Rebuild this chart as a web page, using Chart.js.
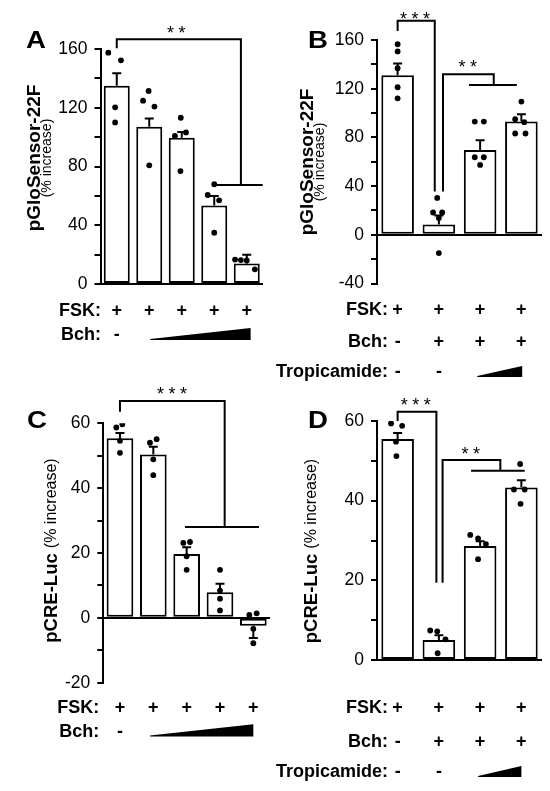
<!DOCTYPE html>
<html>
<head>
<meta charset="utf-8">
<script src="https://cdn.jsdelivr.net/npm/chart.js@4.4.1/dist/chart.umd.min.js"></script>
<style>
  body { margin: 0; background: #fff; }
  #wrap { position: relative; width: 550px; height: 791px; }
  #wrap canvas { position: absolute; left: 0; top: 0; }
</style>
</head>
<body>
<div id="wrap">
  <canvas id="cA" width="550" height="791"></canvas>
  <canvas id="cB" width="550" height="791"></canvas>
  <canvas id="cC" width="550" height="791"></canvas>
  <canvas id="cD" width="550" height="791"></canvas>
</div>
<script>
// ---- data ----
// A: pGloSensor-22F, FSK with rising Bch
const groupsA = ['FSK', 'Bch 1', 'Bch 2', 'Bch 3', 'Bch 4'];
const meanA = [135, 107, 99.5, 53.5, 14];
const semA = [8.5, 5.7, 4, 6.5, 6];
const dotsA = [[157.5, 152.3, 120.3, 110], [124.8, 131.4, 120.8, 80.8], [100.8, 113.2, 103.2, 76.9], [67.9, 60.6, 57, 34.9], [16.6, 16.3, 16, 10]];
const jitterA = [[-0.26, 0.13, -0.05, -0.05], [-0.19, -0.02, 0.16, 0], [-0.21, -0.03, 0.13, -0.04], [0, -0.2, 0.15, 0], [-0.36, -0.18, 0, 0.25]];
const fskA = ['+', '+', '+', '+', '+'];
const bchA = ['-', '', '', '', ''];

// B: pGloSensor-22F, Bch with rising tropicamide
const groupsB = ['FSK', 'FSK+Bch', 'Tro low', 'Tro high'];
const meanB = [131, 8.5, 69.7, 93];
const semB = [9.8, 7.4, 8, 6];
const dotsB = [[156.5, 150.6, 136.8, 121.2, 112.1], [30.3, 18.3, 18.3, 13.7, -15], [93, 93, 63.7, 63.7, 57.4], [109.4, 95, 92.5, 83.2, 83.2]];
const jitterB = [[0, 0, 0, 0, 0], [-0.04, -0.14, 0.08, 0, 0], [-0.13, 0.09, -0.13, 0.09, 0], [0, -0.15, 0.07, -0.15, 0.1]];
const fskB = ['+', '+', '+', '+'];
const bchB = ['-', '+', '+', '+'];
const troB = ['-', '-', '', ''];

// C: pCRE-Luc, FSK with rising Bch
const groupsC = ['FSK', 'Bch 1', 'Bch 2', 'Bch 3', 'Bch 4'];
const meanC = [55.4, 50.4, 19.7, 7.9, -2.4];
const semC = [1.6, 2.4, 2.1, 2.6, 3.8];
const dotsC = [[58.7, 59.7, 54.6, 50.9], [54, 55.1, 48.9, 44], [23.1, 23.4, 19, 14.8], [14.8, 8.4, 5.9, 2.3], [0.9, 1.4, -3.4, -7.8]];
const jitterC = [[-0.11, 0.07, 0, 0], [-0.1, 0.1, 0, 0], [-0.1, 0.1, 0, 0], [0, 0, 0, 0], [-0.12, 0.1, 0, 0]];
const fskC = ['+', '+', '+', '+', '+'];
const bchC = ['-', '', '', '', ''];

// D: pCRE-Luc, Bch with rising tropicamide
const groupsD = ['FSK', 'FSK+Bch', 'Tro low', 'Tro high'];
const meanD = [55.5, 5, 28.6, 43.3];
const semD = [1.5, 1.2, 1.2, 1.8];
const dotsD = [[59.4, 58.8, 54.8, 51.2], [7.4, 7.2, 5.2, 1.7], [31.4, 30.5, 29.1, 25.3], [49.2, 42.8, 42.8, 39.2]];
const jitterD = [[-0.16, 0.11, -0.04, -0.03], [-0.21, -0.04, 0.16, -0.03], [-0.24, -0.05, 0.14, -0.05], [-0.03, -0.18, 0.08, -0.02]];
const fskD = ['+', '+', '+', '+'];
const bchD = ['-', '+', '+', '+'];
const troD = ['-', '-', '', ''];

const FONT = "'Liberation Sans', Arial, Helvetica, sans-serif";
Chart.defaults.font.family = FONT;
Chart.defaults.color = '#000';

// centre a row of asterisks vertically on cy using the glyph ink box
function starRow(ctx, text, cx, cy, gap) {
  const m = ctx.measureText('*');
  const base = cy + (m.actualBoundingBoxAscent - m.actualBoundingBoxDescent) / 2;
  for (let k = 0; k < text.length; k++) {
    ctx.fillText('*', cx + (k - (text.length - 1) / 2) * gap, base);
  }
}

function makePanel(id, p) {
  const n = p.groups.length;
  const pts = [];
  p.dots.forEach((vals, i) => vals.forEach((v, k) => pts.push({ x: i + p.jitter[i][k], y: v })));

  const overlay = {
    id: 'overlay' + id,
    // error bars go over the bars but under the dots
    beforeDatasetDraw(chart, args) {
      if (args.index !== 1) return;
      const ctx = chart.ctx, xs = chart.scales.xj, ys = chart.scales.y;
      ctx.save();
      ctx.strokeStyle = '#000';
      ctx.lineWidth = 2;
      p.mean.forEach((m, i) => {
        const dir = m < 0 ? -1 : 1;
        const x = xs.getPixelForValue(i);
        const y0 = ys.getPixelForValue(m);
        const y1 = ys.getPixelForValue(m + dir * p.sem[i]);
        ctx.beginPath();
        ctx.moveTo(x, y0); ctx.lineTo(x, y1);
        ctx.moveTo(x - 4.5, y1); ctx.lineTo(x + 4.5, y1);
        ctx.stroke();
      });
      ctx.restore();
    },
    afterDraw(chart) {
      const ctx = chart.ctx, xs = chart.scales.xj, ys = chart.scales.y;
      ctx.save();
      ctx.fillStyle = '#000';
      ctx.strokeStyle = '#000';
      ctx.lineWidth = 2;

      // significance brackets
      p.brackets.forEach(b => {
        ctx.beginPath();
        ctx.moveTo(xs.getPixelForValue(b.x1), ys.getPixelForValue(b.y1));
        ctx.lineTo(xs.getPixelForValue(b.x1), ys.getPixelForValue(b.top));
        ctx.lineTo(xs.getPixelForValue(b.x2), ys.getPixelForValue(b.top));
        ctx.lineTo(xs.getPixelForValue(b.x2), ys.getPixelForValue(b.y2));
        if (b.group) {
          ctx.moveTo(xs.getPixelForValue(b.group[0]), ys.getPixelForValue(b.y2));
          ctx.lineTo(xs.getPixelForValue(b.group[1]), ys.getPixelForValue(b.y2));
        }
        ctx.stroke();
        ctx.font = '18px ' + FONT;
        ctx.textAlign = 'center';
        ctx.textBaseline = 'alphabetic';
        starRow(ctx, b.stars, xs.getPixelForValue(b.sx), ys.getPixelForValue(b.sy), 11.5);
      });

      // treatment table under the axis
      ctx.font = 'bold 18px ' + FONT;
      ctx.textBaseline = 'alphabetic';
      p.rows.forEach(r => {
        ctx.textAlign = 'right';
        ctx.fillText(r.name, p.rowRight, r.y);
        ctx.textAlign = 'center';
        r.marks.forEach((s, i) => { if (s) ctx.fillText(s, xs.getPixelForValue(i), r.y); });
        if (r.wedge) {
          const xa = xs.getPixelForValue(r.wedge[0]), xb = xs.getPixelForValue(r.wedge[1]);
          ctx.beginPath();
          ctx.moveTo(xa, r.y - 1);
          ctx.lineTo(xb, r.y - r.wedgeH);
          ctx.lineTo(xb, r.y);
          ctx.lineTo(xa, r.y);
          ctx.closePath();
          ctx.fill();
        }
      });

      // panel letter
      ctx.font = 'bold 23px ' + FONT;
      ctx.textAlign = 'left';
      ctx.save();
      ctx.translate(p.letterPos[0], p.letterPos[1]);
      ctx.scale(1.2, 1);
      ctx.fillText(p.letter, 0, 0);
      ctx.restore();

      // rotated y title
      ctx.textBaseline = 'middle';
      const t = p.title;
      if (t.stacked) {
        ctx.save();
        ctx.translate(t.x, t.y); ctx.rotate(-Math.PI / 2);
        ctx.textAlign = 'center';
        ctx.font = 'bold ' + t.size + 'px ' + FONT;
        ctx.fillText(t.main, 0, 0);
        ctx.restore();
        ctx.save();
        ctx.translate(t.x2, t.y); ctx.rotate(-Math.PI / 2);
        ctx.textAlign = 'center';
        ctx.font = t.subSize + 'px ' + FONT;
        ctx.fillText(t.sub, 0, 0);
        ctx.restore();
      } else {
        ctx.save();
        ctx.translate(t.x, t.y); ctx.rotate(-Math.PI / 2);
        ctx.textAlign = 'left';
        ctx.font = 'bold ' + t.size + 'px ' + FONT;
        const w1 = ctx.measureText(t.main + ' ').width;
        ctx.font = t.subSize + 'px ' + FONT;
        const w2 = ctx.measureText(t.sub).width;
        const x0 = -(w1 + w2) / 2;
        ctx.font = 'bold ' + t.size + 'px ' + FONT;
        ctx.fillText(t.main + ' ', x0, 0);
        ctx.font = t.subSize + 'px ' + FONT;
        ctx.fillText(t.sub, x0 + w1, 0);
        ctx.restore();
      }
      ctx.restore();
    }
  };

  return new Chart(document.getElementById(id), {
    data: {
      labels: p.groups,
      datasets: [
        {
          type: 'bar', data: p.mean, xAxisID: 'x', yAxisID: 'y', order: 2, grouped: false,
          backgroundColor: '#fff', borderColor: '#000', borderWidth: 2, borderSkipped: false,
          barPercentage: p.barPct, categoryPercentage: 1
        },
        {
          type: 'scatter', data: pts, xAxisID: 'xj', yAxisID: 'y', order: 1,
          pointRadius: 2.9, backgroundColor: '#000', borderWidth: 0
        }
      ]
    },
    options: {
      responsive: false,
      animation: false,
      events: [],
      layout: { padding: { left: p.left - 50, right: 550 - p.right, top: p.top, bottom: 791 - p.bottom } },
      plugins: { legend: { display: false }, tooltip: { enabled: false } },
      scales: {
        x: { display: false, offset: true },
        xj: { type: 'linear', display: false, min: -0.5, max: n - 0.5 },
        y: {
          min: p.ymin, max: p.ymax,
          afterFit: s => { s.width = 50; },
          ticks: {
            stepSize: p.minor, color: '#000', padding: 7,
            font: { size: 17.5 },
            callback: v => (v % p.major === 0 ? String(v) : '')
          },
          grid: {
            color: c => (c.tick && c.tick.value === 0 ? '#000' : 'rgba(0,0,0,0)'),
            lineWidth: 2, tickLength: 6, tickColor: '#000', tickWidth: 2
          },
          border: { display: true, color: '#000', width: 2 }
        }
      }
    },
    plugins: [overlay]
  });
}

makePanel('cA', {
  groups: groupsA, mean: meanA, sem: semA, dots: dotsA, jitter: jitterA,
  left: 100.5, right: 263, top: 49, bottom: 284, ymin: 0, ymax: 160, minor: 20, major: 40, barPct: 0.8,
  brackets: [{ x1: 0, y1: 160.5, top: 166.6, x2: 3.82, y2: 67.4, group: [3.01, 4.49], stars: '**', sx: 1.83, sy: 173.6 }],
  rowRight: 101,
  rows: [
    { name: 'FSK:', y: 315.7, marks: fskA },
    { name: 'Bch:', y: 340, marks: bchA, wedge: [1.03, 4.12], wedgeH: 12 }
  ],
  letter: 'A', letterPos: [26, 48.3],
  title: { stacked: true, main: 'pGloSensor-22F', sub: '(% increase)', size: 19, subSize: 14, x: 35, x2: 47, y: 158 }
});

makePanel('cB', {
  groups: groupsB, mean: meanB, sem: semB, dots: dotsB, jitter: jitterB,
  left: 377, right: 542, top: 40, bottom: 283.5, ymin: -40, ymax: 160, minor: 20, major: 40, barPct: 0.79,
  brackets: [
    { x1: 0, y1: 167.4, top: 175.8, x2: 0.9, y2: 35.5, stars: '***', sx: 0.42, sy: 180.5 },
    { x1: 1.1, y1: 35.5, top: 131.8, x2: 2.33, y2: 123, group: [1.73, 2.89], stars: '**', sx: 1.7, sy: 140.3 }
  ],
  rowRight: 388,
  rows: [
    { name: 'FSK:', y: 315, marks: fskB },
    { name: 'Bch:', y: 346.7, marks: bchB },
    { name: 'Tropicamide:', y: 377, marks: troB, wedge: [1.93, 3.02], wedgeH: 11 }
  ],
  letter: 'B', letterPos: [308, 48.3],
  title: { stacked: true, main: 'pGloSensor-22F', sub: '(% increase)', size: 19, subSize: 14, x: 308, x2: 320, y: 162 }
});

makePanel('cC', {
  groups: groupsC, mean: meanC, sem: semC, dots: dotsC, jitter: jitterC,
  left: 103.3, right: 270, top: 423.3, bottom: 682.7, ymin: -20, ymax: 60, minor: 10, major: 20, barPct: 0.8,
  brackets: [{ x1: 0, y1: 63.6, top: 66.9, x2: 3.14, y2: 28, group: [1.95, 4.17], stars: '***', sx: 1.56, sy: 70 }],
  rowRight: 99.3,
  rows: [
    { name: 'FSK:', y: 713.3, marks: fskC },
    { name: 'Bch:', y: 736.5, marks: bchC, wedge: [0.9, 4.0], wedgeH: 12.3 }
  ],
  letter: 'C', letterPos: [27, 428.3],
  title: { stacked: false, main: 'pCRE-Luc', sub: '(% increase)', size: 18.5, subSize: 16, x: 52, y: 550.5 }
});

makePanel('cD', {
  groups: groupsD, mean: meanD, sem: semD, dots: dotsD, jitter: jitterD,
  left: 377, right: 542, top: 421, bottom: 660, ymin: 0, ymax: 60, minor: 10, major: 20, barPct: 0.79,
  brackets: [
    { x1: 0, y1: 60, top: 62.3, x2: 0.94, y2: 19.4, stars: '***', sx: 0.44, sy: 65 },
    { x1: 1.09, y1: 19.4, top: 50.2, x2: 2.49, y2: 47.5, group: [1.78, 3.08], stars: '**', sx: 1.77, sy: 52.7 }
  ],
  rowRight: 388,
  rows: [
    { name: 'FSK:', y: 713.3, marks: fskD },
    { name: 'Bch:', y: 746.5, marks: bchD },
    { name: 'Tropicamide:', y: 777, marks: troD, wedge: [1.95, 3.0], wedgeH: 11 }
  ],
  letter: 'D', letterPos: [308, 428.3],
  title: { stacked: false, main: 'pCRE-Luc', sub: '(% increase)', size: 18.5, subSize: 16, x: 312, y: 551 }
});
</script>
</body>
</html>
